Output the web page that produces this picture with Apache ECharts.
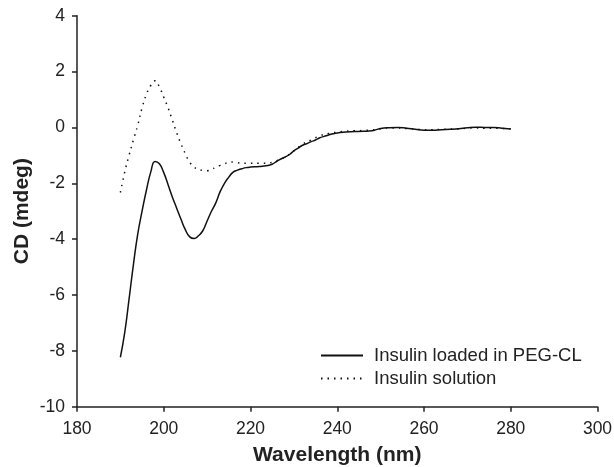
<!DOCTYPE html>
<html>
<head>
<meta charset="utf-8">
<script src="https://cdn.jsdelivr.net/npm/echarts@6/dist/echarts.min.js"></script>
<style>html,body{margin:0;padding:0;background:#fff}#c{width:614px;height:467px}</style>
</head>
<body>
<div id="c"></div>
<script>
// Insulin loaded in PEG-CL (solid)
var loadedX = [190,191,192,193,194,195,196,197,198,199,200,201,202,203,204,205,206,207,208,209,210,211,212,213,214,215,216,217,218,219,220,222,224,225,226,227,228,229,230,231,232,233,234,235,236,237,238,239,240,242,244,246,248,249,250,252,254,256,258,260,262,264,266,268,270,272,274,276,278,280];
var loadedY = [-8.23,-7.35,-6.15,-4.92,-3.82,-3.0,-2.25,-1.6,-1.22,-1.3,-1.62,-2.05,-2.5,-2.9,-3.3,-3.67,-3.92,-3.98,-3.88,-3.7,-3.35,-3.0,-2.7,-2.3,-2.0,-1.78,-1.6,-1.53,-1.48,-1.44,-1.42,-1.4,-1.36,-1.32,-1.22,-1.13,-1.06,-0.97,-0.84,-0.74,-0.64,-0.58,-0.51,-0.45,-0.37,-0.32,-0.27,-0.23,-0.2,-0.16,-0.15,-0.14,-0.12,-0.08,-0.04,-0.01,0.0,-0.03,-0.07,-0.1,-0.1,-0.08,-0.07,-0.05,-0.01,0.01,0.0,0.0,-0.03,-0.06];
// Insulin solution (dotted)
var solutionX = [190,191,192,193,194,195,196,197,198,199,200,201,202,203,204,205,206,207,208,209,210,211,212,213,214,215,216,217,218,220,222,224,225,226,227,228,229,230,232,234,236,238,240,242,244,246,248,250,252,254,256,258,260,262,264,266,268,270,272,274,276,278,280];
var solutionY = [-2.33,-1.6,-1.0,-0.45,0.08,0.7,1.18,1.5,1.67,1.45,1.08,0.7,0.25,-0.2,-0.6,-0.95,-1.25,-1.42,-1.5,-1.54,-1.55,-1.5,-1.43,-1.36,-1.3,-1.26,-1.24,-1.26,-1.28,-1.28,-1.28,-1.28,-1.25,-1.2,-1.13,-1.06,-0.96,-0.84,-0.6,-0.45,-0.3,-0.22,-0.17,-0.13,-0.12,-0.11,-0.09,-0.05,-0.02,-0.02,-0.04,-0.06,-0.08,-0.08,-0.07,-0.06,-0.05,-0.03,-0.02,-0.03,-0.03,-0.04,-0.05];
var seriesNames = ['Insulin loaded in PEG-CL', 'Insulin solution'];
var xName = 'Wavelength (nm)';
var yName = 'CD (mdeg)';

function pairs(xs, ys){ return xs.map(function(x,i){ return [x, ys[i]]; }); }

var font = 'Liberation Sans, Arial, Helvetica, sans-serif';
var chart = echarts.init(document.getElementById('c'), null, {renderer:'canvas'});
chart.setOption({
  animation: false,
  backgroundColor: '#fff',
  grid: {left: 77, right: 16.5, top: 15.7, bottom: 60.3, containLabel: false, outerBoundsMode: 'none'},
  legend: {
    orient: 'vertical', left: 320, top: 345.5, padding: 0,
    itemWidth: 42, itemHeight: 14, itemGap: 3,
    itemStyle: {opacity: 0},
    textStyle: {fontFamily: font, fontSize: 18.5, lineHeight: 20, color: '#222', padding: [0,0,0,6]},
    data: seriesNames
  },
  xAxis: {
    type: 'value', min: 180, max: 300, interval: 20,
    name: xName, nameLocation: 'middle', nameGap: 38, nameMoveOverlap: false,
    nameTextStyle: {fontFamily: font, fontSize: 21, fontWeight: 'bold', color: '#222'},
    axisLine: {show: true, onZero: false, lineStyle: {color: '#222', width: 1.5}},
    axisTick: {show: true, inside: false, length: 5, lineStyle: {color: '#222', width: 1.5}},
    axisLabel: {fontFamily: font, fontSize: 17.5, color: '#222', margin: 13.5},
    splitLine: {show: false}
  },
  yAxis: {
    type: 'value', min: -10, max: 4, interval: 2,
    name: yName, nameLocation: 'middle', nameGap: 44, nameMoveOverlap: false,
    nameTextStyle: {fontFamily: font, fontSize: 21, fontWeight: 'bold', color: '#222'},
    axisLine: {show: true, onZero: false, lineStyle: {color: '#222', width: 1.5}},
    axisTick: {show: true, inside: false, length: 5, lineStyle: {color: '#222', width: 1.5}},
    axisLabel: {fontFamily: font, fontSize: 17.5, color: '#222', margin: 12},
    splitLine: {show: false}
  },
  series: [
    {name: seriesNames[0], type: 'line', data: pairs(loadedX, loadedY), symbol: 'none', smooth: 0.5,
     itemStyle: {color: '#111'}, lineStyle: {color: '#111', width: 1.5, type: 'solid'}},
    {name: seriesNames[1], type: 'line', data: pairs(solutionX, solutionY), symbol: 'none', smooth: 0.5,
     itemStyle: {color: '#111'}, lineStyle: {color: '#111', width: 1.5, type: [1.5, 5]}}
  ]
});
</script>
</body>
</html>
